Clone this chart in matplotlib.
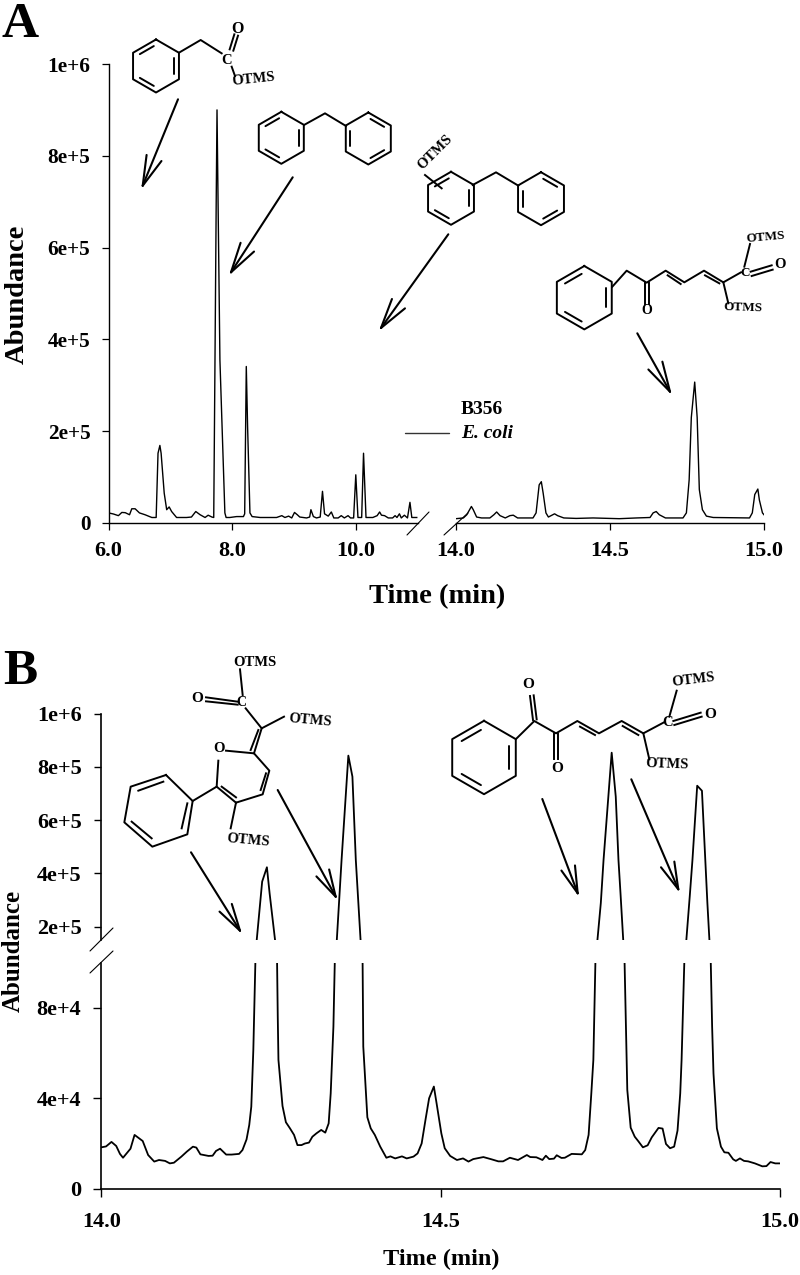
import numpy as np
import matplotlib
matplotlib.use('Agg')
import matplotlib.pyplot as plt

plt.rcParams['font.family'] = ['Liberation Serif', 'DejaVu Serif']
plt.rcParams['font.weight'] = 'bold'

W, H = 800, 1275

# panel A, left part of the broken time axis
time_a1 = [6.00, 6.08, 6.16, 6.215, 6.27, 6.34, 6.376, 6.43, 6.50, 6.59, 6.70, 6.77, 6.80, 6.83, 6.85, 6.90, 6.94, 6.98,
           7.02, 7.10, 7.26, 7.34, 7.41, 7.48, 7.56, 7.61, 7.67, 7.70, 7.72, 7.74, 7.753, 7.77, 7.80, 7.88, 7.90, 7.96,
           8.07, 8.18, 8.20, 8.226, 8.247, 8.285, 8.32, 8.45, 8.55, 8.715, 8.80, 8.85, 8.91, 8.96, 9.005, 9.05, 9.09,
           9.20, 9.25, 9.27, 9.31, 9.36, 9.42, 9.457, 9.49, 9.55, 9.60, 9.64, 9.71, 9.76, 9.81, 9.87, 9.91, 9.96, 9.995,
           10.03, 10.09, 10.12, 10.16, 10.27, 10.34, 10.38, 10.41, 10.46, 10.52, 10.59, 10.63, 10.66, 10.70, 10.73,
           10.78, 10.83, 10.87, 10.90, 10.98]
abund_a1 = [2.2e4, 1.96e4, 1.6e4, 2.3e4, 2.25e4, 1.8e4, 3.1e4, 3.1e4, 2.2e4, 1.8e4, 1.2e4, 1.2e4, 1.52e5, 1.69e5, 1.52e5,
            6.5e4, 2.9e4, 3.5e4, 2.5e4, 1.2e4, 1.2e4, 1.3e4, 2.5e4, 1.8e4, 1.2e4, 1.7e4, 1.3e4, 1.2e4, 3.5e5, 7e5, 9.0e5,
            7e5, 3.55e5, 2.2e4, 1.2e4, 1.2e4, 1.4e4, 1.4e4, 2.0e4, 3.41e5, 2.1e5, 2.2e4, 1.4e4, 1.2e4, 1.2e4, 1.2e4,
            1.6e4, 1.2e4, 1.5e4, 1.1e4, 2.3e4, 1.8e4, 1.3e4, 1.1e4, 1.3e4, 2.9e4, 1.4e4, 1.1e4, 1.3e4, 6.9e4, 2e4, 1.5e4,
            2.4e4, 1.1e4, 1.1e4, 1.6e4, 1.1e4, 1.6e4, 1.1e4, 1.1e4, 1.05e5, 1.2e4, 1.2e4, 1.52e5, 1.2e4, 1.2e4, 1.6e4,
            2.4e4, 1.7e4, 1.6e4, 1.1e4, 1.1e4, 1.6e4, 1.2e4, 2e4, 1.1e4, 1.7e4, 1.1e4, 4.5e4, 1.2e4, 1.2e4]

# panel A, right part
time_a2 = [14.0, 14.024, 14.035, 14.05, 14.056, 14.067, 14.083, 14.11, 14.123, 14.132, 14.143, 14.16, 14.175, 14.186,
           14.20, 14.25, 14.26, 14.27, 14.277, 14.283, 14.292, 14.30, 14.32, 14.33, 14.35, 14.39, 14.445, 14.53, 14.586,
           14.63, 14.64, 14.65, 14.66, 14.68, 14.737, 14.748, 14.757, 14.764, 14.775, 14.783, 14.79, 14.80, 14.813,
           14.835, 14.953, 14.962, 14.97, 14.98, 14.985, 14.995, 15.0]
abund_a2 = [9.4e3, 1.1e4, 1.8e4, 3.6e4, 2.9e4, 1.3e4, 1.1e4, 1.1e4, 1.8e4, 2.4e4, 1.6e4, 1.1e4, 1.6e4, 1.7e4, 1.1e4, 1.1e4,
            2.2e4, 8.3e4, 9.0e4, 6.5e4, 2.2e4, 1.3e4, 2e4, 1.6e4, 1.1e4, 1e4, 1.1e4, 9.4e3, 1.1e4, 1.2e4, 2.2e4, 2.5e4,
            1.8e4, 1.1e4, 1.1e4, 2.2e4, 9.4e4, 2.3e5, 3.07e5, 2.3e5, 7.3e4, 2.9e4, 1.5e4, 1.2e4, 1.1e4, 2.2e4, 6.2e4,
            7.4e4, 5e4, 2.2e4, 1.8e4]

# panel B
time_b = [14.0, 14.007, 14.015, 14.022, 14.0275, 14.032, 14.043, 14.049, 14.061, 14.069, 14.078, 14.085, 14.094, 14.101,
          14.107, 14.118, 14.126, 14.135, 14.14, 14.146, 14.158, 14.164, 14.169, 14.175, 14.184, 14.192, 14.203, 14.208,
          14.214, 14.218, 14.221, 14.224, 14.227, 14.229, 14.237, 14.244, 14.248, 14.256, 14.259, 14.26, 14.261, 14.267,
          14.272, 14.278, 14.284, 14.289, 14.295, 14.30, 14.306, 14.311, 14.317, 14.324, 14.33, 14.335, 14.338, 14.342,
          14.344, 14.347, 14.354, 14.364, 14.37, 14.375, 14.382, 14.385, 14.386, 14.392, 14.397, 14.403, 14.411, 14.42,
          14.426, 14.433, 14.443, 14.45, 14.46, 14.466, 14.472, 14.478, 14.483, 14.49, 14.494, 14.501, 14.506, 14.514,
          14.524, 14.533, 14.541, 14.548, 14.563, 14.575, 14.585, 14.592, 14.602, 14.614, 14.627, 14.632, 14.641, 14.65,
          14.655, 14.66, 14.667, 14.671, 14.678, 14.683, 14.693, 14.708, 14.713, 14.718, 14.722, 14.725, 14.728, 14.731,
          14.736, 14.74, 14.752, 14.758, 14.762, 14.765, 14.769, 14.771, 14.773, 14.775, 14.78, 14.786, 14.791, 14.798,
          14.805, 14.811, 14.821, 14.827, 14.832, 14.838, 14.844, 14.849, 14.853, 14.855, 14.859, 14.862, 14.867, 14.871,
          14.878, 14.885, 14.89, 14.893, 14.896, 14.898, 14.90, 14.902, 14.907, 14.913, 14.918, 14.924, 14.931, 14.935,
          14.941, 14.947, 14.953, 14.963, 14.974, 14.98, 14.986, 14.993, 15.0]
abund_b = [1.83e4, 1.87e4, 2.07e4, 1.89e4, 1.54e4, 1.37e4, 1.77e4, 2.38e4, 2.11e4, 1.49e4, 1.2e4, 1.27e4, 1.23e4, 1.12e4,
           1.15e4, 1.42e4, 1.64e4, 1.86e4, 1.82e4, 1.52e4, 1.45e4, 1.46e4, 1.67e4, 1.77e4, 1.51e4, 1.51e4, 1.54e4, 1.71e4,
           2.18e4, 2.82e4, 3.63e4, 6.14e4, 1.0e5, 1.5e5, 3.69e5, 4.23e5, 3.25e5, 1.5e5, 1e5, 7.6e4, 5.7e4, 3.66e4,
           2.94e4, 2.67e4, 2.38e4, 1.93e4, 1.93e4, 2e4, 2.04e4, 2.3e4, 2.45e4, 2.6e4, 2.48e4, 2.89e4, 4.22e4, 7.17e4,
           1e5, 1.5e5, 4.5e5, 8.42e5, 7.63e5, 4.5e5, 1.5e5, 1e5, 6.29e4, 3.16e4, 2.67e4, 2.38e4, 1.86e4, 1.37e4,
           1.43e4, 1.34e4, 1.43e4, 1.34e4, 1.42e4, 1.56e4, 2e4, 3.11e4, 4e4, 4.52e4, 3.78e4, 2.45e4, 1.79e4, 1.45e4,
           1.27e4, 1.34e4, 1.2e4, 1.31e4, 1.4e4, 1.3e4, 1.21e4, 1.21e4, 1.37e4, 1.27e4, 1.49e4, 1.4e4, 1.39e4, 1.27e4,
           1.46e4, 1.31e4, 1.33e4, 1.48e4, 1.36e4, 1.37e4, 1.54e4, 1.52e4, 1.71e4, 2.38e4, 4.22e4, 5.7e4, 1e5, 1.5e5,
           2.89e5, 4.5e5, 8.53e5, 6.88e5, 4.5e5, 3.25e5, 1.5e5, 1e5, 7.17e4, 4.37e4, 2.7e4, 2.3e4, 2.11e4, 1.83e4,
           1.92e4, 2.27e4, 2.69e4, 2.66e4, 1.98e4, 1.79e4, 1.86e4, 2.57e4, 4.22e4, 5.7e4, 1e5, 1.5e5, 3.13e5, 4.5e5,
           7.29e5, 7.1e5, 4.5e5, 2.89e5, 1.5e5, 1e5, 7.17e4, 5.1e4, 2.67e4, 1.86e4, 1.61e4, 1.59e4, 1.3e4, 1.23e4,
           1.34e4, 1.23e4, 1.21e4, 1.12e4, 9.9e3, 1e4, 1.18e4, 1.12e4, 1.12e4]

yticks_a = [0, 2e5, 4e5, 6e5, 8e5, 1e6]
ylabels_a = ['0', '2e+5', '4e+5', '6e+5', '8e+5', '1e+6']
xticks_a1 = [6, 8, 10]
xlabels_a1 = ['6.0', '8.0', '10.0']
xticks_a2 = [14, 14.5, 15]
xlabels_a2 = ['14.0', '14.5', '15.0']
yticks_b_up = [2e5, 4e5, 6e5, 8e5, 1e6]
ylabels_b_up = ['2e+5', '4e+5', '6e+5', '8e+5', '1e+6']
yticks_b_low = [0, 4e4, 8e4]
ylabels_b_low = ['0', '4e+4', '8e+4']


def px_axes(x0, x1, y0, y1):
    return fig.add_axes([x0 / W, 1 - y1 / H, (x1 - x0) / W, (y1 - y0) / H])


def style(ax, lw=1.1):
    ax.patch.set_alpha(0)
    ax.spines['top'].set_visible(False)
    ax.spines['right'].set_visible(False)
    ax.spines['left'].set_linewidth(lw)
    ax.spines['bottom'].set_linewidth(lw)


fig = plt.figure(figsize=(W / 100, H / 100), dpi=100)

# panel A axes
ax1 = px_axes(108.5, 418, 64, 523)
ax1.plot(time_a1, abund_a1, color='k', lw=1.0)
ax1.set_xlim(6, 11)
ax1.set_ylim(0, 1e6)
ax1.set_yticks(yticks_a, ylabels_a, fontsize=15.3)
ax1.set_xticks(xticks_a1, xlabels_a1, fontsize=16)
ax1.tick_params(length=5, width=0.9)
ax1.tick_params(axis='y', pad=8)
ax1.tick_params(axis='x', pad=8)
style(ax1, 1.0)

ax2 = px_axes(456, 764, 64, 523)
ax2.plot(time_a2, abund_a2, color='k', lw=1.0)
ax2.set_xlim(14, 15)
ax2.set_ylim(0, 1e6)
ax2.set_yticks([])
ax2.set_xticks(xticks_a2, xlabels_a2, fontsize=16)
ax2.tick_params(length=5, width=0.9, pad=8)
style(ax2, 1.0)
ax2.spines['left'].set_visible(False)

# panel B axes, same trace on both sides of the break
ax3 = px_axes(101.3, 780, 713.5, 940)
ax3.plot(time_b, abund_b, color='k', lw=1.3)
ax3.set_xlim(14, 15)
ax3.set_ylim(1.5e5, 1e6)
ax3.set_xticks([])
ax3.set_yticks(yticks_b_up, ylabels_b_up, fontsize=16)
ax3.tick_params(length=5, width=1.0, pad=9)
style(ax3, 1.2)
ax3.spines['bottom'].set_visible(False)

ax4 = px_axes(101.3, 780, 962.7, 1188.7)
ax4.plot(time_b, abund_b, color='k', lw=1.3)
ax4.set_xlim(14, 15)
ax4.set_ylim(0, 1e5)
ax4.set_xticks(xticks_a2, xlabels_a2, fontsize=16)
ax4.set_yticks(yticks_b_low, ylabels_b_low, fontsize=16)
ax4.tick_params(length=5.5, width=1.0)
ax4.tick_params(axis='x', pad=11)
ax4.tick_params(axis='y', pad=9)
style(ax4, 1.2)

# overlay in image pixels for labels, arrows and the drawn structures
ov = fig.add_axes([0, 0, 1, 1])
ov.set_xlim(0, W)
ov.set_ylim(H, 0)
ov.axis('off')
ov.patch.set_alpha(0)


def seg(x0, y0, x1, y1, lw=1.4, color='k'):
    ov.plot([x0, x1], [y0, y1], color=color, lw=lw, solid_capstyle='round')


def chain(pts, lw=1.4):
    ov.plot([p[0] for p in pts], [p[1] for p in pts], color='k', lw=lw, solid_joinstyle='round')


def txt(x, y, s, size=11, rot=0):
    ov.text(x, y, s, fontsize=size, rotation=rot, ha='center', va='center', rotation_mode='anchor')


def arrow(x0, y0, x1, y1, barb=31, spread=15, lw=1.5):
    seg(x0, y0, x1, y1, lw)
    base = np.arctan2(y0 - y1, x0 - x1)
    for sign in (-1, 1):
        a = base + sign * np.radians(spread)
        seg(x1, y1, x1 + barb * np.cos(a), y1 + barb * np.sin(a), lw)


def ring(cx, cy, r, inner=(5, 1, 3), lw=1.4):
    # pointy-top hexagon; inner lines on edges i -> i+1, vertex 0 at the top, clockwise
    ang = np.radians(np.arange(6) * 60 - 90)
    vx = cx + r * np.cos(ang)
    vy = cy + r * np.sin(ang)
    chain(list(zip(np.r_[vx, vx[0]], np.r_[vy, vy[0]])), lw)
    for i in inner:
        j = (i + 1) % 6
        ax_, ay_ = cx + 0.8 * (vx[i] - cx), cy + 0.8 * (vy[i] - cy)
        bx_, by_ = cx + 0.8 * (vx[j] - cx), cy + 0.8 * (vy[j] - cy)
        seg(ax_ + 0.12 * (bx_ - ax_), ay_ + 0.12 * (by_ - ay_),
            bx_ - 0.12 * (bx_ - ax_), by_ - 0.12 * (by_ - ay_), lw)


def zseg(ox, oy, *segs, lw=1.4):
    # coordinates read on a 3x crop back to image pixels
    for s in segs:
        chain([(ox + p[0] / 3, oy + p[1] / 3) for p in s], lw)


# titles and labels
ov.text(2, 37, 'A', fontsize=37, ha='left', va='baseline')
ov.text(3, 684, 'B', fontsize=37, ha='left', va='baseline')
txt(17, 294, 'Abundance', size=20.5, rot=90)
txt(437, 597, 'Time (min)', size=20.5)
txt(13, 951, 'Abundance', size=18, rot=90)
txt(441, 1259, 'Time (min)', size=17.5)

# legend of panel A
seg(404.5, 433, 449, 433, 1.0, '#333333')
ov.text(461, 409, 'B356', fontsize=14, ha='left', va='center')
ov.text(461, 434, 'E. coli', fontsize=14, style='italic', ha='left', va='center')

# axis breaks
seg(407, 535, 429, 512, 0.8)
seg(444, 535, 468, 513, 0.8)
seg(90, 951, 113, 928, 0.8)
seg(90, 973, 113, 951, 0.8)

# arrows
arrow(178, 99.3, 142.7, 185.7)
arrow(292.7, 177.3, 231, 272.3)
arrow(448.3, 234.3, 381, 328)
arrow(637.3, 333.3, 670, 391.7)
arrow(191, 852.3, 240, 930.7, barb=28)
arrow(277.7, 790, 335.7, 896.7, barb=28)
arrow(542.3, 799, 577.7, 893.3, barb=28)
arrow(631.3, 779.3, 678.3, 889.3, barb=28)

# phenylacetic acid TMS ester
ring(156, 66, 26.5)
zseg(0, 0, [(537, 158), (602, 120), (665, 160)], [(689, 148), (703, 103)], [(700, 152), (714, 107)], [(695, 200), (705, 228)])
txt(226.5, 60, 'C', size=10.5)
txt(237.5, 29, 'O', size=11.5)
txt(253, 79, 'OTMS', size=10.5, rot=6)

# bibenzyl
ring(281.3, 137.8, 26)
ring(368.3, 138.5, 26, inner=(0, 2, 4))
zseg(0, 0, [(912, 375), (975, 340), (1038, 378)])

# hydroxylated bibenzyl
ring(451, 198.3, 26.5)
ring(541, 198.7, 26.5, inner=(0, 2, 4))
zseg(400, 120, [(218, 195), (288, 157), (355, 197)], [(75, 165), (125, 205)])
txt(435, 152, 'OTMS', size=10.5, rot=45)

# panel A right structure
ring(584.3, 297.7, 31.7)
zseg(400, 120, [(637, 500), (680, 452), (740, 488), (797, 452), (853, 487), (912, 452), (970, 487), (1023, 457)],
     [(734, 490), (734, 553)], [(746, 490), (746, 553)], [(803, 466), (842, 492)], [(915, 466), (958, 490)],
     [(970, 487), (985, 550)], [(1050, 372), (1033, 440)], [(1052, 455), (1115, 436)], [(1055, 468), (1118, 449)])
txt(745, 273, 'C', size=9.5)
txt(647, 310, 'O', size=10)
txt(766, 237, 'OTMS', size=9.5, rot=5)
txt(780, 265, 'O', size=10.5)
txt(743, 308, 'OTMS', size=9.5, rot=-2)

# pyran structure of panel B
zseg(110, 640, [(168, 405), (248, 483), (232, 583), (127, 620), (43, 547), (62, 440), (168, 405)],
     [(85, 452), (160, 425)], [(232, 490), (215, 565)], [(65, 545), (125, 595)],
     [(248, 483), (320, 440), (325, 362)], [(320, 440), (378, 488)], [(335, 440), (378, 472)],
     [(378, 488), (362, 565)], [(378, 488), (458, 463), (478, 392), (432, 340), (348, 332)],
     [(452, 450), (468, 400)], [(432, 340), (455, 265), (522, 230)], [(422, 330), (445, 270)],
     [(455, 265), (407, 205)], [(383, 185), (288, 172)], [(383, 194), (288, 184)], [(398, 165), (390, 88)])
txt(218.5, 748, 'O', size=10.5)
txt(241, 703, 'C', size=10)
txt(197, 698, 'O', size=11)
txt(255, 662, 'OTMS', size=10.5)
txt(310, 720, 'OTMS', size=10.5, rot=-5)
txt(248, 840, 'OTMS', size=10.5, rot=-5)

# benzoyl structure of panel B
ring(484, 757.5, 36.7)
zseg(440, 660, [(228, 237), (283, 183), (348, 220), (412, 183), (477, 220), (545, 183), (610, 220), (672, 187)],
     [(270, 108), (279, 180)], [(281, 106), (290, 178)], [(342, 222), (342, 296)], [(354, 222), (354, 296)],
     [(420, 200), (465, 225)], [(548, 198), (595, 225)], [(610, 220), (628, 298)], [(688, 170), (710, 92)],
     [(700, 183), (782, 158)], [(703, 195), (785, 170)])
txt(528, 684, 'O', size=11)
txt(557, 769, 'O', size=11)
txt(668, 723, 'C', size=10.5)
txt(693, 680, 'OTMS', size=10.5, rot=7)
txt(710, 714, 'O', size=11)
txt(667, 764, 'OTMS', size=10.5, rot=-2)

fig.savefig('out.png', dpi=100)
